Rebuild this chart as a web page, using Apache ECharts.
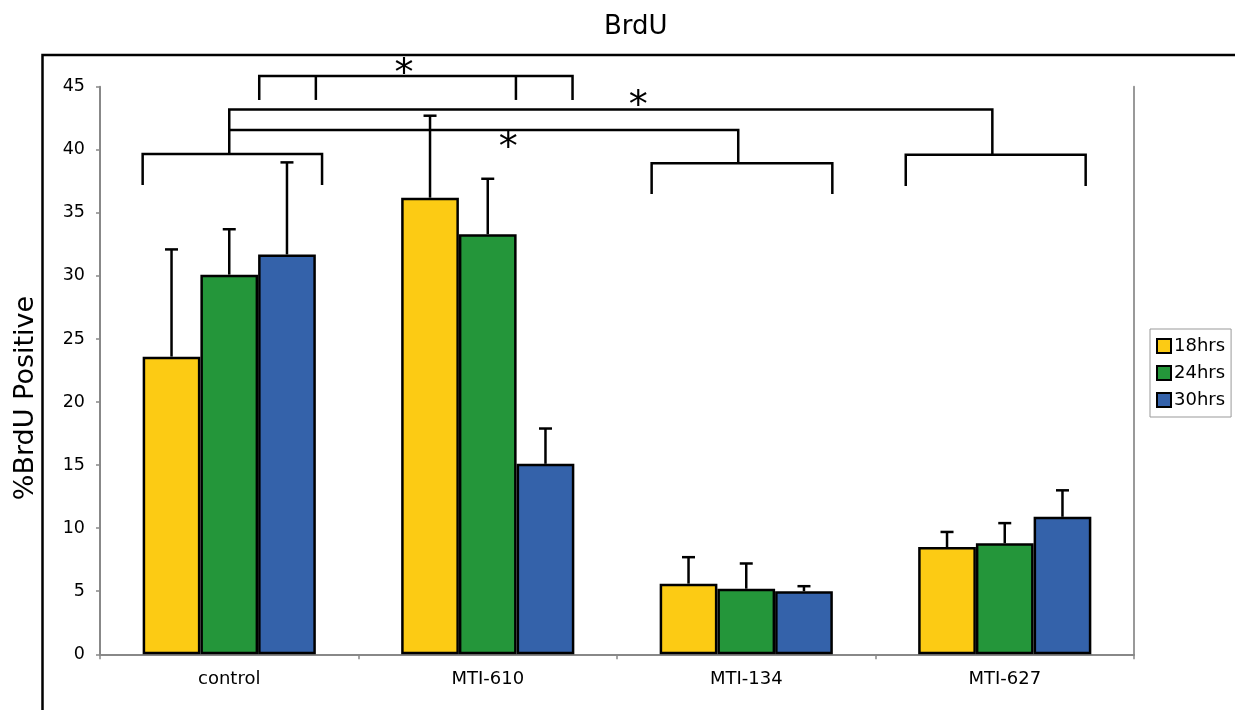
<!DOCTYPE html>
<html>
<head>
<meta charset="utf-8">
<title>BrdU</title>
<script src="https://cdn.jsdelivr.net/npm/echarts@6/dist/echarts.min.js"></script>
<style>
  html, body { margin: 0; padding: 0; background: #fff; }
  #chart { width: 1235px; height: 710px; }
</style>
</head>
<body>
<div id="chart"></div>
<script>
// Treatment groups on the x axis
const categories = ['control', 'MTI-610', 'MTI-134', 'MTI-627'];
// Time points (one bar series each)
const seriesNames = ['18hrs', '24hrs', '30hrs'];
// Mean %BrdU positive per group
const mean18 = [23.6, 36.2, 5.6, 8.5];
const mean24 = [30.1, 33.3, 5.2, 8.8];
const mean30 = [31.7, 15.1, 5.0, 10.9];
// Top of the error bar (mean + error)
const upper18 = [32.1, 42.7, 7.7, 9.7];
const upper24 = [33.7, 37.7, 7.2, 10.4];
const upper30 = [39.0, 17.9, 5.4, 13.0];
// Y axis ticks
const yTicks = [0, 5, 10, 15, 20, 25, 30, 35, 40, 45];

const colors = ['#FCCB14', '#24963A', '#3462AA'];
const means = [mean18, mean24, mean30];
const uppers = [upper18, upper24, upper30];

const FONT = 'DejaVu Sans';
const BAR_FRAC = 0.2233;          // bar width as a fraction of the category band

// Significance brackets: each point is [categoryIndex, offset within band, y value]
const bracketLines = [
  [[0, -0.335, 37.2], [0, -0.335, 39.66], [0, 0.359, 39.66], [0, 0.359, 37.2]],
  [[0, 0, 39.66], [0, 0, 43.2], [3, -0.048, 43.2], [3, -0.048, 39.6]],
  [[0, 0, 41.57], [2, -0.031, 41.57], [2, -0.031, 38.93]],
  [[2, -0.366, 36.49], [2, -0.366, 38.93], [2, 0.333, 38.93], [2, 0.333, 36.49]],
  [[3, -0.383, 37.13], [3, -0.383, 39.6], [3, 0.313, 39.6], [3, 0.313, 37.13]],
  [[0, 0.116, 43.95], [0, 0.116, 45.85], [1, 0.328, 45.85], [1, 0.328, 43.95]],
  [[0, 0.335, 45.85], [0, 0.335, 43.95]],
  [[1, 0.109, 45.85], [1, 0.109, 43.95]]
];
// Significance markers
const asterisks = [[0, 0.676, 45.9], [1, 0.582, 43.4], [1, 0.079, 40.05]];

const chart = echarts.init(document.getElementById('chart'), null, { renderer: 'canvas' });

function bandWidth(api) { return api.size([1, 0])[0]; }
function xAt(api, cat, frac) { return api.coord([cat, 0])[0] + frac * bandWidth(api); }

const barSeries = seriesNames.map((name, i) => ({
  name: name,
  type: 'bar',
  data: means[i],
  barWidth: (BAR_FRAC * 100) + '%',
  barGap: '0%',
  itemStyle: { color: colors[i], borderColor: '#000', borderWidth: 2.5 },
  z: 2
}));

const errorSeries = seriesNames.map((name, i) => ({
  type: 'custom',
  name: name + ' error',
  data: categories.map((c, k) => [k, means[i][k], uppers[i][k]]),
  z: 1,
  silent: true,
  renderItem: function (params, api) {
    const k = api.value(0);
    const bw = bandWidth(api) * BAR_FRAC;
    const x = api.coord([k, 0])[0] + (i - 1) * bw;
    const yTop = api.coord([k, api.value(2)])[1];
    const yMean = api.coord([k, api.value(1)])[1];
    const cap = 6.5;
    return {
      type: 'group',
      children: [
        { type: 'line', shape: { x1: x, y1: yMean, x2: x, y2: yTop }, style: { stroke: '#000', lineWidth: 2.5 } },
        { type: 'line', shape: { x1: x - cap, y1: yTop, x2: x + cap, y2: yTop }, style: { stroke: '#000', lineWidth: 2.5 } }
      ]
    };
  }
}));

const annotationSeries = {
  type: 'custom',
  name: 'significance',
  data: [0],
  clip: false,
  silent: true,
  z: 5,
  renderItem: function (params, api) {
    const children = [];
    bracketLines.forEach(pts => {
      children.push({
        type: 'polyline',
        shape: { points: pts.map(p => [xAt(api, p[0], p[1]), api.coord([p[0], p[2]])[1]]) },
        style: { stroke: '#000', lineWidth: 2.5, fill: null }
      });
    });
    asterisks.forEach(a => {
      children.push({
        type: 'text',
        x: xAt(api, a[0], a[1]),
        y: api.coord([a[0], a[2]])[1],
        style: {
          text: '*', fontFamily: FONT, fontSize: 38, fill: '#000',
          align: 'center', verticalAlign: 'middle'
        }
      });
    });
    return { type: 'group', children: children };
  }
};

const option = {
  animation: false,
  textStyle: { fontFamily: FONT },
  title: {
    text: 'BrdU',
    left: 599,
    top: 9,
    textStyle: { fontFamily: FONT, fontSize: 26, fontWeight: 'normal', color: '#000' }
  },
  legend: {
    data: seriesNames,
    orient: 'vertical',
    left: 1150,
    top: 329,
    icon: 'rect',
    itemWidth: 14,
    itemHeight: 14,
    itemGap: 9,
    padding: [8, 6, 8, 6],
    borderColor: '#999',
    borderWidth: 1,
    textStyle: { fontFamily: FONT, fontSize: 18, color: '#000', lineHeight: 18, padding: [0, 0, 0, -2] }
  },
  grid: { left: 100, top: 86.7, width: 1034, height: 567.6, containLabel: false },
  xAxis: {
    type: 'category',
    data: categories,
    axisLine: { lineStyle: { color: '#888', width: 2 } },
    axisTick: { show: true, length: 5, lineStyle: { color: '#888', width: 1.5 } },
    axisLabel: { color: '#000', fontSize: 18, fontFamily: FONT, margin: 16 }
  },
  yAxis: [{
    type: 'value',
    min: yTicks[0],
    max: yTicks[yTicks.length - 1],
    interval: yTicks[1] - yTicks[0],
    splitLine: { show: false },
    axisLine: { show: true, lineStyle: { color: '#888', width: 2 } },
    axisTick: { show: true, length: 4, lineStyle: { color: '#888', width: 1.5 } },
    axisLabel: { color: '#000', fontSize: 17.5, fontFamily: FONT, margin: 15 }
  }, {
    type: 'value',
    position: 'right',
    min: yTicks[0],
    max: yTicks[yTicks.length - 1],
    splitLine: { show: false },
    axisLine: { show: true, lineStyle: { color: '#999', width: 2 } },
    axisTick: { show: false },
    axisLabel: { show: false }
  }],
  graphic: [
    {
      type: 'rect',
      shape: { x: 42.5, y: 55, width: 1300, height: 800 },
      style: { stroke: '#000', lineWidth: 2.5, fill: null },
      silent: true
    },
    {
      type: 'text',
      x: 26,
      y: 398,
      rotation: Math.PI / 2,
      style: {
        text: '%BrdU Positive', fontFamily: FONT, fontSize: 27, fill: '#000',
        align: 'center', verticalAlign: 'middle'
      },
      silent: true
    }
  ],
  series: [...barSeries, ...errorSeries, annotationSeries]
};

chart.setOption(option);
</script>
</body>
</html>
